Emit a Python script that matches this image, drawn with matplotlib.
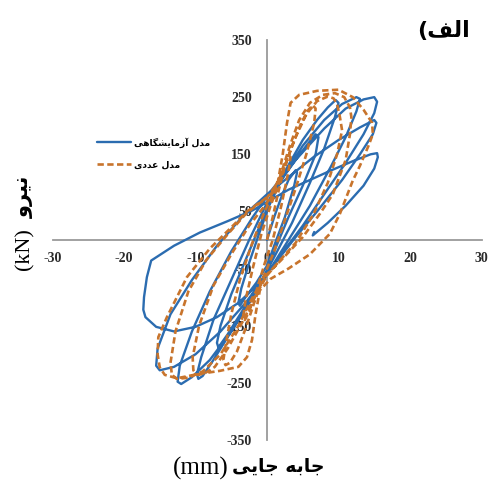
import matplotlib
matplotlib.use("Agg")
import matplotlib.pyplot as plt

# Experimental hysteresis path (displacement mm, force kN)
exp_disp = [0, 1, 2, 3, 4, 4.2, 3.8,
            2.5, 1, 0, -1.5, -3, -3.8, -4, -3.6,
            -2.5, -1, 0.3, 2, 4, 5.5, 6.8, 7.2, 6.8,
            5, 3, 1, 0, -2, -4, -5.5, -6.8, -7, -6.5,
            -5, -3, -1, 0.5, 2.5, 5, 7, 8.5, 9.6, 10, 9.5,
            8, 6, 3.5, 1, -0.5, -3, -5.5, -7.5, -9, -9.6, -9.8, -9.2,
            -7.5, -5, -2.5, 0, 2, 5, 8, 10.5, 12.5, 13, 12.5,
            11, 9, 6, 3, 0.5, -2, -5, -8, -10.5, -12, -12.5, -12.2,
            -10.5, -8, -5, -2, 0.5, 4, 8, 11, 13.5, 15, 15.4, 15,
            13.5, 11, 8, 5, 2, 0, -3, -6.5, -10, -13, -15, -15.5, -15.3,
            -13.5, -10.5, -7, -3.5, 0, 3, 6.5, 10, 13, 15, 15.3, 14.8,
            13, 10.5, 7, 4, 1.5, -1, -4, -7, -10, -13, -15.5, -17, -17.3,
            -17.2, -16.8, -16.2,
            -13, -9.4, -5.5, -2, 0.5, 3, 6, 9, 12, 14.5, 15.4, 15.5, 15,
            13.5, 11, 8.5, 6.8, 6.4, 6.6]
exp_force = [0, 40, 75, 105, 122, 118, 95,
             40, -10, -45, -75, -100, -115, -110, -85,
             -40, 15, 60, 105, 140, 165, 185, 180, 150,
             95, 40, -20, -55, -95, -135, -165, -188, -180, -150,
             -95, -35, 25, 70, 120, 175, 210, 232, 245, 240, 215,
             160, 100, 30, -30, -65, -120, -170, -210, -238, -243, -235, -205,
             -140, -70, 0, 65, 105, 165, 210, 238, 250, 247, 225,
             180, 130, 60, 0, -50, -100, -160, -210, -240, -252, -248, -220,
             -160, -90, -20, 40, 85, 140, 195, 230, 246, 250, 242, 222,
             185, 135, 80, 25, -25, -60, -110, -160, -200, -222, -228, -220, -190,
             -130, -70, -10, 40, 80, 110, 145, 175, 197, 210, 205, 185,
             150, 105, 50, 5, -35, -75, -110, -135, -152, -160, -152, -135, -122,
             -100, -65, -36,
             -10, 13, 33, 52, 70, 88, 105, 122, 138, 150, 152, 145, 125,
             95, 60, 30, 12, 8, 14]

# Numerical-model hysteresis path (displacement mm, force kN)
num_disp = [0, 0.8, 1.6, 2.4, 3, 3.3, 3,
            2, 0.8, -0.3, -1.5, -2.5, -3.1, -3.3, -3,
            -2, -0.8, 0.5, 2, 3.5, 4.8, 5.8, 6.4, 6.8, 6.6,
            5.5, 4, 2.5, 1, -0.5, -1.8, -3, -4.2, -5.2, -5.8, -6.1, -5.8,
            -5, -3.8, -2.2, -0.5, 1, 2.5, 4, 5.5, 7, 8.5, 9.3, 9.8, 10.2, 10.5,
            9.8, 8.5, 6.5, 4, 1.5, 0, -1.5, -3.5, -5.5, -7.3, -8.8, -9.8, -10.3, -10.4,
            -9.5, -7.5, -5, -2.5, 0, 1.8, 3.2, 4.5, 6, 7.8, 9.5, 10.8, 11.6, 11.8, 11.6,
            11, 9.2, 7.4, 5, 2, 0, -2, -4, -6.5, -9, -11, -12.6, -13.3, -13.5,
            -12.8, -11, -8.5, -5.5, -2.8, 0, 1.5, 2.2, 2.8, 3.3, 4.5, 7, 10, 12, 13.5, 14.7, 14.8, 14.2,
            13, 12, 10.2, 8.8, 6, 3, 0.5, -1, -1.6, -2.1, -2.8, -4, -6.6, -9.8, -12.6, -14.3, -15, -15.3, -15.2,
            -14, -11.2, -8, -5, -2.8, -0.5, 1]
num_force = [0, 40, 85, 125, 148, 145, 120,
             60, 0, -40, -90, -125, -140, -132, -105,
             -50, 10, 60, 110, 165, 205, 228, 236, 230, 205,
             150, 90, 35, -20, -65, -110, -155, -195, -215, -219, -210, -185,
             -130, -70, -10, 45, 85, 130, 180, 220, 243, 251, 248, 238, 215, 192,
             150, 100, 45, -5, -40, -62, -95, -145, -190, -222, -234, -236, -228, -205,
             -150, -80, -25, 25, 65, 110, 165, 210, 240, 254, 257, 250, 232, 215, 185,
             140, 80, 46, 5, -35, -60, -100, -150, -200, -230, -241, -243, -236, -215,
             -160, -90, -35, 10, 48, 74, 100, 150, 205, 240, 254, 261, 263, 250, 228, 205, 185, 165,
             130, 104, 46, 11, -25, -50, -68, -88, -130, -175, -205, -222, -229, -235, -242, -236, -223, -200, -170,
             -135, -65, -15, 22, 50, 70, 85]

x_ticks = [-30, -20, -10, 0, 10, 20, 30]
y_ticks = [-350, -250, -150, -50, 50, 150, 250, 350]

# Persian labels written in presentation forms, in visual (left-to-right) order
label_exp = "\uFBFD\uFEEB\uFE8E\uFB95\uFEB8\uFBFE\uFE8E\uFEE3\uFEAF\uFE81 \uFEDD\uFEAA\uFEE3"   # مدل آزمایشگاهی
label_num = "\uFBFC\uFEA9\uFEAA\uFECB \uFEDD\uFEAA\uFEE3"                                     # مدل عددی
title_txt = "(\uFED2\uFEDF\uFE8D"                                                                # الف)
force_txt = "\uFEED\uFEAE\uFBFF\uFEE7"                                                           # نیرو
disp_txt = "\uFBFD\uFBFE\uFE8E\uFE9F \uFEEA\uFE91\uFE8E\uFE9F"                                   # جابه جایی

W, H = 490, 484
fig = plt.figure(figsize=(W / 100, H / 100), dpi=100)
ax = fig.add_axes([52.5 / W, 44 / H, 429 / W, 400 / H])

blue = "#2b6cb0"
orange = "#c8742c"
ax.plot(exp_disp, exp_force, color=blue, lw=1.7, solid_joinstyle="round",
        solid_capstyle="round", label=label_exp, zorder=3)
ax.plot(num_disp, num_force, color=orange, lw=1.9, dashes=(2.4, 1.3),
        dash_capstyle="butt", label=label_num, zorder=4)

ax.set_xlim(-30, 30)
ax.set_ylim(-350, 350)
for side in ("top", "right"):
    ax.spines[side].set_visible(False)
ax.spines["left"].set_position(("data", 0))
ax.spines["bottom"].set_position(("data", 0))
for side in ("left", "bottom"):
    ax.spines[side].set_color("#9a9a9a")
    ax.spines[side].set_linewidth(1.3)
ax.set_axisbelow(True)

ax.set_xticks(x_ticks)
ax.set_yticks(y_ticks)
ax.set_xticklabels([str(v) for v in x_ticks])
ax.set_yticklabels([str(v) for v in y_ticks])
ax.tick_params(length=0, labelsize=10, labelcolor="#2a2a2a")
ax.tick_params(axis="x", pad=9)
ax.tick_params(axis="y", pad=11)
for lab in ax.get_xticklabels() + ax.get_yticklabels():
    lab.set_fontfamily("Liberation Serif")
    lab.set_fontweight("bold")

leg = ax.legend(loc="upper left", bbox_to_anchor=((97 - 52.5) / 429, (440 - 137) / 400),
                frameon=False, borderpad=0, borderaxespad=0, handlelength=3.7,
                handletextpad=0.35, labelspacing=1.4,
                prop={"family": "DejaVu Sans", "weight": "bold", "size": 6.6})

fig.text(443 / W, 1 - 31 / H, title_txt, fontsize=16, fontweight="bold",
         family="DejaVu Sans", ha="center", va="center")

# x-axis title: unit in serif, word in bold
fig.text(229 / W, 1 - 468 / H, "(mm)", fontsize=18, family="Liberation Serif",
         ha="right", va="center")
fig.text(232 / W, 1 - 466 / H, disp_txt, fontsize=13.5, fontweight="bold",
         family="DejaVu Sans", ha="left", va="center")

# y-axis title, rotated
fig.text(25 / W, 1 - 249 / H, "(kN)", fontsize=16, family="Liberation Serif",
         rotation=90, ha="center", va="center")
fig.text(24 / W, 1 - 197 / H, force_txt, fontsize=15, fontweight="bold",
         family="DejaVu Sans", rotation=90, ha="center", va="center")

fig.savefig("out.png", dpi=100)
